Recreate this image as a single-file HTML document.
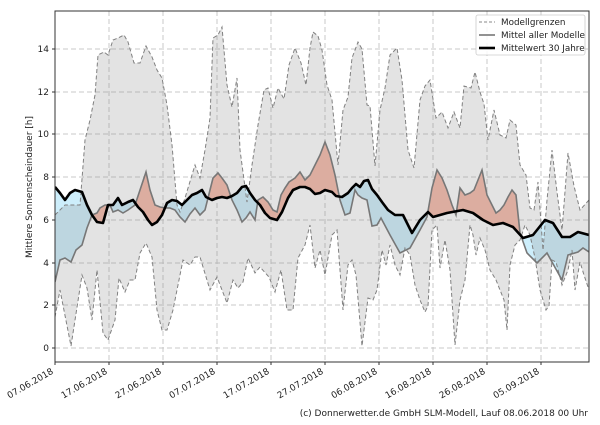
<!DOCTYPE html>
<html><head><meta charset="utf-8"><style>
html,body{margin:0;padding:0;background:#fff;}
svg text{font-family:"DejaVu Sans","Liberation Sans",sans-serif;}
</style></head><body>
<svg width="600" height="420" viewBox="0 0 600 420" xmlns="http://www.w3.org/2000/svg">
<defs>
<clipPath id="plot"><rect x="55" y="11" width="534" height="351"/></clipPath>
<clipPath id="aboveC"><polygon points="55,0 55,187 60,193 65,200 70,193 75,190 82,192 87,205 92,215 97,222 103,223 108,205 113,205 118,198 122,205 128,202 133,200 138,207 143,212 148,220 152,225 157,222 162,215 167,203 172,200 177,201 182,205 187,200 192,195 197,193 202,190 206,197 212,200 217,198 222,197 227,198 232,196 237,193 242,187 246,186 250,193 255,200 260,205 265,213 270,218 277,220 282,212 288,198 293,190 300,187 305,187 310,189 315,194 320,193 325,190 332,192 336,196 342,197 348,193 352,188 356,184 360,187 364,181 368,180 372,189 377,195 382,202 388,210 395,215 403,215 412,233 420,220 428,212 433,217 447,213 463,210 473,213 483,220 493,225 503,223 513,227 523,238 533,235 545,220 553,223 562,237 570,237 578,232 589,235 600,235 600,0"/></clipPath>
<clipPath id="belowC"><polygon points="55,420 55,187 60,193 65,200 70,193 75,190 82,192 87,205 92,215 97,222 103,223 108,205 113,205 118,198 122,205 128,202 133,200 138,207 143,212 148,220 152,225 157,222 162,215 167,203 172,200 177,201 182,205 187,200 192,195 197,193 202,190 206,197 212,200 217,198 222,197 227,198 232,196 237,193 242,187 246,186 250,193 255,200 260,205 265,213 270,218 277,220 282,212 288,198 293,190 300,187 305,187 310,189 315,194 320,193 325,190 332,192 336,196 342,197 348,193 352,188 356,184 360,187 364,181 368,180 372,189 377,195 382,202 388,210 395,215 403,215 412,233 420,220 428,212 433,217 447,213 463,210 473,213 483,220 493,225 503,223 513,227 523,238 533,235 545,220 553,223 562,237 570,237 578,232 589,235 600,235 600,420"/></clipPath>
</defs>
<g stroke="#c8c8c8" stroke-width="1" stroke-dasharray="5,3">
<line x1="55" y1="348" x2="589" y2="348"/><line x1="55" y1="305" x2="589" y2="305"/><line x1="55" y1="263" x2="589" y2="263"/><line x1="55" y1="220" x2="589" y2="220"/><line x1="55" y1="177" x2="589" y2="177"/><line x1="55" y1="134" x2="589" y2="134"/><line x1="55" y1="92" x2="589" y2="92"/><line x1="55" y1="49" x2="589" y2="49"/>
<line x1="109" y1="11" x2="109" y2="362"/><line x1="163" y1="11" x2="163" y2="362"/><line x1="217" y1="11" x2="217" y2="362"/><line x1="271" y1="11" x2="271" y2="362"/><line x1="325" y1="11" x2="325" y2="362"/><line x1="379" y1="11" x2="379" y2="362"/><line x1="433" y1="11" x2="433" y2="362"/><line x1="487" y1="11" x2="487" y2="362"/><line x1="541" y1="11" x2="541" y2="362"/>
</g>
<g clip-path="url(#plot)">
<polygon clip-path="url(#belowC)" fill="#cdeefb" points="55,0 55,282 60,260 65,258 71,262 76,250 82,245 87,228 92,215 97,213 100,208 105,205 110,205 113,212 118,210 123,213 128,210 135,205 140,190 146,172 150,190 155,205 160,207 165,208 170,208 175,210 180,217 185,222 190,214 195,208 200,215 205,210 210,190 213,178 218,173 222,178 227,185 232,200 237,210 242,222 246,218 250,212 255,220 258,200 263,197 268,202 273,210 277,212 281,195 285,188 289,182 295,178 300,172 305,180 310,175 315,165 320,155 325,142 330,155 335,175 340,200 345,215 350,213 355,190 358,195 362,198 367,200 372,226 377,225 381,218 390,235 400,253 410,248 420,230 427,217 432,188 437,170 442,178 447,190 452,205 456,215 460,188 465,195 470,193 474,190 478,180 482,170 487,195 492,205 496,213 500,210 504,205 508,197 512,190 516,195 520,233 527,253 537,263 547,253 562,280 568,255 578,252 583,248 589,252 600,252 600,0"/>
<polygon clip-path="url(#aboveC)" fill="#f6b9a8" points="55,420 55,282 60,260 65,258 71,262 76,250 82,245 87,228 92,215 97,213 100,208 105,205 110,205 113,212 118,210 123,213 128,210 135,205 140,190 146,172 150,190 155,205 160,207 165,208 170,208 175,210 180,217 185,222 190,214 195,208 200,215 205,210 210,190 213,178 218,173 222,178 227,185 232,200 237,210 242,222 246,218 250,212 255,220 258,200 263,197 268,202 273,210 277,212 281,195 285,188 289,182 295,178 300,172 305,180 310,175 315,165 320,155 325,142 330,155 335,175 340,200 345,215 350,213 355,190 358,195 362,198 367,200 372,226 377,225 381,218 390,235 400,253 410,248 420,230 427,217 432,188 437,170 442,178 447,190 452,205 456,215 460,188 465,195 470,193 474,190 478,180 482,170 487,195 492,205 496,213 500,210 504,205 508,197 512,190 516,195 520,233 527,253 537,263 547,253 562,280 568,255 578,252 583,248 589,252 600,252 600,420"/>
<polygon fill="#8c8c8c" fill-opacity="0.24" points="55,215 60,210 65,205 80,205 85,140 90,120 95,95 98,55 104,52 108,55 113,40 118,38 124,35 128,42 134,63 140,63 146,46 152,57 157,70 162,78 167,105 172,145 177,205 180,212 185,198 195,165 200,178 205,150 210,118 213,38 218,35 222,27 227,85 232,107 237,78 240,150 247,202 252,165 258,125 264,90 268,88 273,108 278,88 284,99 289,65 295,48 301,63 306,85 310,48 313,32 318,36 322,50 327,85 332,100 338,165 343,110 348,97 352,58 358,42 362,49 367,105 370,106 375,166 380,110 385,88 390,55 397,48 402,80 408,150 414,168 420,100 425,86 430,80 436,118 442,112 448,128 454,112 460,128 464,86 471,88 475,72 480,92 484,104 488,140 494,110 500,135 506,138 510,120 516,125 520,165 526,175 530,208 534,210 538,182 543,250 547,200 552,150 557,192 562,230 568,153 574,186 580,210 589,200 589,290 584,275 580,262 575,290 572,250 568,270 562,285 556,262 552,260 549,306 546,310 540,290 535,258 530,235 525,225 520,240 515,245 510,265 507,330 504,300 500,290 496,280 490,270 485,250 480,238 476,255 473,235 470,225 465,280 460,300 455,345 450,270 445,240 440,268 437,225 432,230 428,306 425,312 420,300 415,285 410,255 405,248 400,275 395,265 390,245 386,265 382,250 377,290 373,300 368,298 362,346 356,275 352,260 348,265 343,310 337,230 332,235 325,275 320,250 315,268 310,225 305,245 298,258 293,310 287,310 281,270 275,292 269,277 260,267 255,273 248,258 243,282 238,288 233,280 227,303 217,277 210,290 200,257 195,257 190,265 183,260 173,310 167,330 162,330 157,310 152,257 146,243 140,253 135,280 130,280 125,292 119,278 115,320 108,340 103,333 97,270 92,320 87,288 82,275 71,346 60,290 55,317"/>
<g fill="none" stroke="#808080" stroke-width="1" stroke-dasharray="4,2.5">
<polyline points="55,215 60,210 65,205 80,205 85,140 90,120 95,95 98,55 104,52 108,55 113,40 118,38 124,35 128,42 134,63 140,63 146,46 152,57 157,70 162,78 167,105 172,145 177,205 180,212 185,198 195,165 200,178 205,150 210,118 213,38 218,35 222,27 227,85 232,107 237,78 240,150 247,202 252,165 258,125 264,90 268,88 273,108 278,88 284,99 289,65 295,48 301,63 306,85 310,48 313,32 318,36 322,50 327,85 332,100 338,165 343,110 348,97 352,58 358,42 362,49 367,105 370,106 375,166 380,110 385,88 390,55 397,48 402,80 408,150 414,168 420,100 425,86 430,80 436,118 442,112 448,128 454,112 460,128 464,86 471,88 475,72 480,92 484,104 488,140 494,110 500,135 506,138 510,120 516,125 520,165 526,175 530,208 534,210 538,182 543,250 547,200 552,150 557,192 562,230 568,153 574,186 580,210 589,200"/>
<polyline points="55,317 60,290 71,346 82,275 87,288 92,320 97,270 103,333 108,340 115,320 119,278 125,292 130,280 135,280 140,253 146,243 152,257 157,310 162,330 167,330 173,310 183,260 190,265 195,257 200,257 210,290 217,277 227,303 233,280 238,288 243,282 248,258 255,273 260,267 269,277 275,292 281,270 287,310 293,310 298,258 305,245 310,225 315,268 320,250 325,275 332,235 337,230 343,310 348,265 352,260 356,275 362,346 368,298 373,300 377,290 382,250 386,265 390,245 395,265 400,275 405,248 410,255 415,285 420,300 425,312 428,306 432,230 437,225 440,268 445,240 450,270 455,345 460,300 465,280 470,225 473,235 476,255 480,238 485,250 490,270 496,280 500,290 504,300 507,330 510,265 515,245 520,240 525,225 530,235 535,258 540,290 546,310 549,306 552,260 556,262 562,285 568,270 572,250 575,290 580,262 584,275 589,290"/>
</g>
<polyline fill="none" stroke="#777" stroke-width="1.6" points="55,282 60,260 65,258 71,262 76,250 82,245 87,228 92,215 97,213 100,208 105,205 110,205 113,212 118,210 123,213 128,210 135,205 140,190 146,172 150,190 155,205 160,207 165,208 170,208 175,210 180,217 185,222 190,214 195,208 200,215 205,210 210,190 213,178 218,173 222,178 227,185 232,200 237,210 242,222 246,218 250,212 255,220 258,200 263,197 268,202 273,210 277,212 281,195 285,188 289,182 295,178 300,172 305,180 310,175 315,165 320,155 325,142 330,155 335,175 340,200 345,215 350,213 355,190 358,195 362,198 367,200 372,226 377,225 381,218 390,235 400,253 410,248 420,230 427,217 432,188 437,170 442,178 447,190 452,205 456,215 460,188 465,195 470,193 474,190 478,180 482,170 487,195 492,205 496,213 500,210 504,205 508,197 512,190 516,195 520,233 527,253 537,263 547,253 562,280 568,255 578,252 583,248 589,252"/>
<polyline fill="none" stroke="#000" stroke-width="2.6" stroke-linejoin="round" points="55,187 60,193 65,200 70,193 75,190 82,192 87,205 92,215 97,222 103,223 108,205 113,205 118,198 122,205 128,202 133,200 138,207 143,212 148,220 152,225 157,222 162,215 167,203 172,200 177,201 182,205 187,200 192,195 197,193 202,190 206,197 212,200 217,198 222,197 227,198 232,196 237,193 242,187 246,186 250,193 255,200 260,205 265,213 270,218 277,220 282,212 288,198 293,190 300,187 305,187 310,189 315,194 320,193 325,190 332,192 336,196 342,197 348,193 352,188 356,184 360,187 364,181 368,180 372,189 377,195 382,202 388,210 395,215 403,215 412,233 420,220 428,212 433,217 447,213 463,210 473,213 483,220 493,225 503,223 513,227 523,238 533,235 545,220 553,223 562,237 570,237 578,232 589,235"/>
</g>
<rect x="55" y="11" width="534" height="351" fill="none" stroke="#333" stroke-width="1"/>
<g stroke="#333"><line x1="52" y1="348" x2="55" y2="348"/><line x1="52" y1="305" x2="55" y2="305"/><line x1="52" y1="263" x2="55" y2="263"/><line x1="52" y1="220" x2="55" y2="220"/><line x1="52" y1="177" x2="55" y2="177"/><line x1="52" y1="134" x2="55" y2="134"/><line x1="52" y1="92" x2="55" y2="92"/><line x1="52" y1="49" x2="55" y2="49"/>
<line x1="55" y1="362" x2="55" y2="365"/><line x1="109" y1="362" x2="109" y2="365"/><line x1="163" y1="362" x2="163" y2="365"/><line x1="217" y1="362" x2="217" y2="365"/><line x1="271" y1="362" x2="271" y2="365"/><line x1="325" y1="362" x2="325" y2="365"/><line x1="379" y1="362" x2="379" y2="365"/><line x1="433" y1="362" x2="433" y2="365"/><line x1="487" y1="362" x2="487" y2="365"/><line x1="541" y1="362" x2="541" y2="365"/></g>
<g font-size="9" fill="#222" text-anchor="end">
<text x="49" y="351">0</text><text x="49" y="308">2</text><text x="49" y="266">4</text><text x="49" y="223">6</text><text x="49" y="180">8</text><text x="49" y="137">10</text><text x="49" y="95">12</text><text x="49" y="52">14</text>
<text transform="translate(54,373) rotate(-30)">07.06.2018</text>
<text transform="translate(108,373) rotate(-30)">17.06.2018</text>
<text transform="translate(162,373) rotate(-30)">27.06.2018</text>
<text transform="translate(216,373) rotate(-30)">07.07.2018</text>
<text transform="translate(270,373) rotate(-30)">17.07.2018</text>
<text transform="translate(324,373) rotate(-30)">27.07.2018</text>
<text transform="translate(378,373) rotate(-30)">06.08.2018</text>
<text transform="translate(432,373) rotate(-30)">16.08.2018</text>
<text transform="translate(486,373) rotate(-30)">26.08.2018</text>
<text transform="translate(540,373) rotate(-30)">05.09.2018</text>
</g>
<text font-size="9" fill="#222" text-anchor="middle" transform="translate(32,187) rotate(-90)">Mittlere Sonnenscheindauer [h]</text>
<text font-size="9" fill="#222" text-anchor="end" x="588" y="416">(c) Donnerwetter.de GmbH SLM-Modell, Lauf 08.06.2018 00 Uhr</text>
<rect x="476" y="15" width="109" height="40" fill="#fff" fill-opacity="0.85" stroke="#ccc" stroke-width="0.8" rx="2"/>
<line x1="479" y1="22" x2="495" y2="22" stroke="#888" stroke-dasharray="3,2"/>
<line x1="479" y1="35" x2="495" y2="35" stroke="#777" stroke-width="1.6"/>
<line x1="479" y1="48" x2="495" y2="48" stroke="#000" stroke-width="2.6"/>
<g font-size="8.8" fill="#222"><text x="501" y="25">Modellgrenzen</text><text x="501" y="38">Mittel aller Modelle</text><text x="501" y="51">Mittelwert 30 Jahre</text></g>
</svg>
</body></html>
